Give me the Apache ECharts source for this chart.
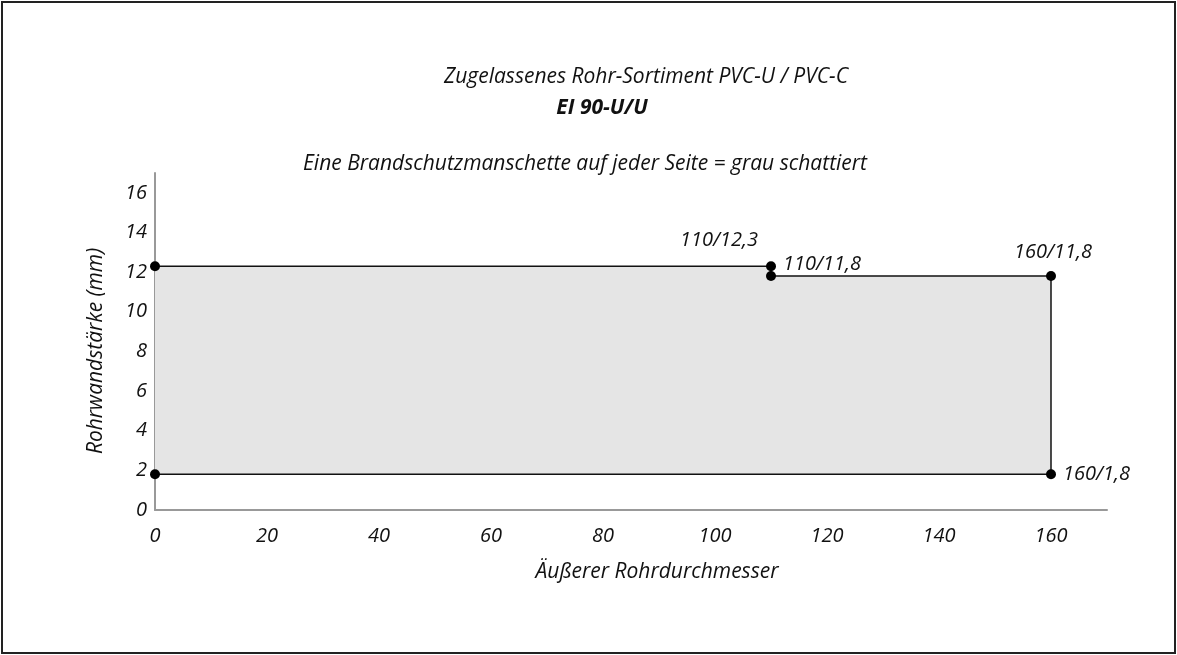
<!DOCTYPE html>
<html>
<head>
<meta charset="utf-8">
<script src="https://cdn.jsdelivr.net/npm/echarts@6/dist/echarts.min.js"></script>
<style>
    html, body {margin: 0; padding: 0; background: #fff;}
    #main {width: 1177px; height: 655px;}
</style>
</head>
<body>
<div id="main"></div>
<script>
    // Eckpunkte der Flaeche (Aussendurchmesser / Wandstaerke)
    var outlineX = [0, 110, 110, 160, 160, 0];
    var outlineY = [12.3, 12.3, 11.8, 11.8, 1.8, 1.8];
    var pointLabels = ['', '110/12,3', '110/11,8', '160/11,8', '160/1,8', ''];
    var xTicks = [0, 20, 40, 60, 80, 100, 120, 140, 160];
    var yTicks = [0, 2, 4, 6, 8, 10, 12, 14, 16];

    var myChart = echarts.init(document.getElementById('main'));
    var font = '"Open Sans", "Noto Sans", sans-serif';

    var outline = [];
    for (var i = 0; i < outlineX.length; i++) {
        outline.push([outlineX[i], outlineY[i]]);
    }

    // Labelpositionen je Punkt
    var labelPos = [
        null,
        {position: 'top', offset: [-52, -6]},
        {position: 'right', offset: [2, -12]},
        {position: 'top', offset: [2, -4]},
        {position: 'right', offset: [2, 0]},
        null
    ];
    var points = [];
    for (var i = 0; i < outline.length; i++) {
        var p = {value: outline[i]};
        if (pointLabels[i]) {
            p.label = {
                show: true,
                formatter: pointLabels[i],
                position: labelPos[i].position,
                offset: labelPos[i].offset,
                fontStyle: 'italic',
                fontFamily: font,
                fontSize: 20,
                color: '#111'
            };
        }
        points.push(p);
    }

    function txt(s, x, y, weight, rot) {
        return {
            type: 'text',
            x: x, y: y,
            rotation: rot || 0,
            silent: true,
            style: {
                text: s,
                font: 'italic ' + (weight || 'normal') + ' 21px ' + font,
                fill: '#111',
                textAlign: 'center',
                textVerticalAlign: 'middle'
            }
        };
    }

    var option = {
        animation: false,
        backgroundColor: '#fff',
        grid: {left: 155, right: 70, top: 173, bottom: 145},
        graphic: [
            {
                type: 'rect',
                shape: {x: 2, y: 2, width: 1173, height: 651},
                style: {fill: 'none', stroke: '#222', lineWidth: 2},
                silent: true
            },
            txt('Zugelassenes Rohr-Sortiment PVC-U / PVC-C', 646, 77),
            txt('EI 90-U/U', 602, 108, 'bold'),
            txt('Eine Brandschutzmanschette auf jeder Seite = grau schattiert', 585, 164),
            txt('Äußerer Rohrdurchmesser', 657, 572),
            txt('Rohrwandstärke (mm)', 96, 351, 'normal', Math.PI / 2)
        ],
        xAxis: {
            type: 'value',
            min: 0, max: 170, interval: 20,
            axisLine: {show: true, lineStyle: {color: '#999', width: 2}},
            axisTick: {show: false},
            splitLine: {show: false},
            axisLabel: {
                margin: 16,
                fontFamily: font, fontStyle: 'italic', fontSize: 20, color: '#111',
                formatter: function (v) { return xTicks.indexOf(v) >= 0 ? v : ''; }
            }
        },
        yAxis: {
            type: 'value',
            min: 0, max: 17, interval: 2,
            axisLine: {show: true, lineStyle: {color: '#999', width: 2}},
            axisTick: {show: false},
            splitLine: {show: false},
            axisLabel: {
                margin: 8,
                fontFamily: font, fontStyle: 'italic', fontSize: 20, color: '#111',
                formatter: function (v) { return yTicks.indexOf(v) >= 0 ? v : ''; }
            }
        },
        series: [
            {
                // grau schattierte Flaeche
                type: 'custom',
                silent: true,
                z: 1,
                data: [0],
                renderItem: function (params, api) {
                    var pts = [];
                    for (var i = 0; i < outline.length; i++) {
                        pts.push(api.coord(outline[i]));
                    }
                    return {
                        type: 'polygon',
                        shape: {points: pts},
                        style: {fill: '#e5e5e5', stroke: 'none'}
                    };
                }
            },
            {
                type: 'line',
                data: points,
                z: 3,
                symbol: 'circle',
                symbolSize: 10,
                itemStyle: {color: '#000'},
                lineStyle: {color: '#111', width: 1.5},
                silent: true
            }
        ]
    };

    myChart.setOption(option);
</script>
</body>
</html>
